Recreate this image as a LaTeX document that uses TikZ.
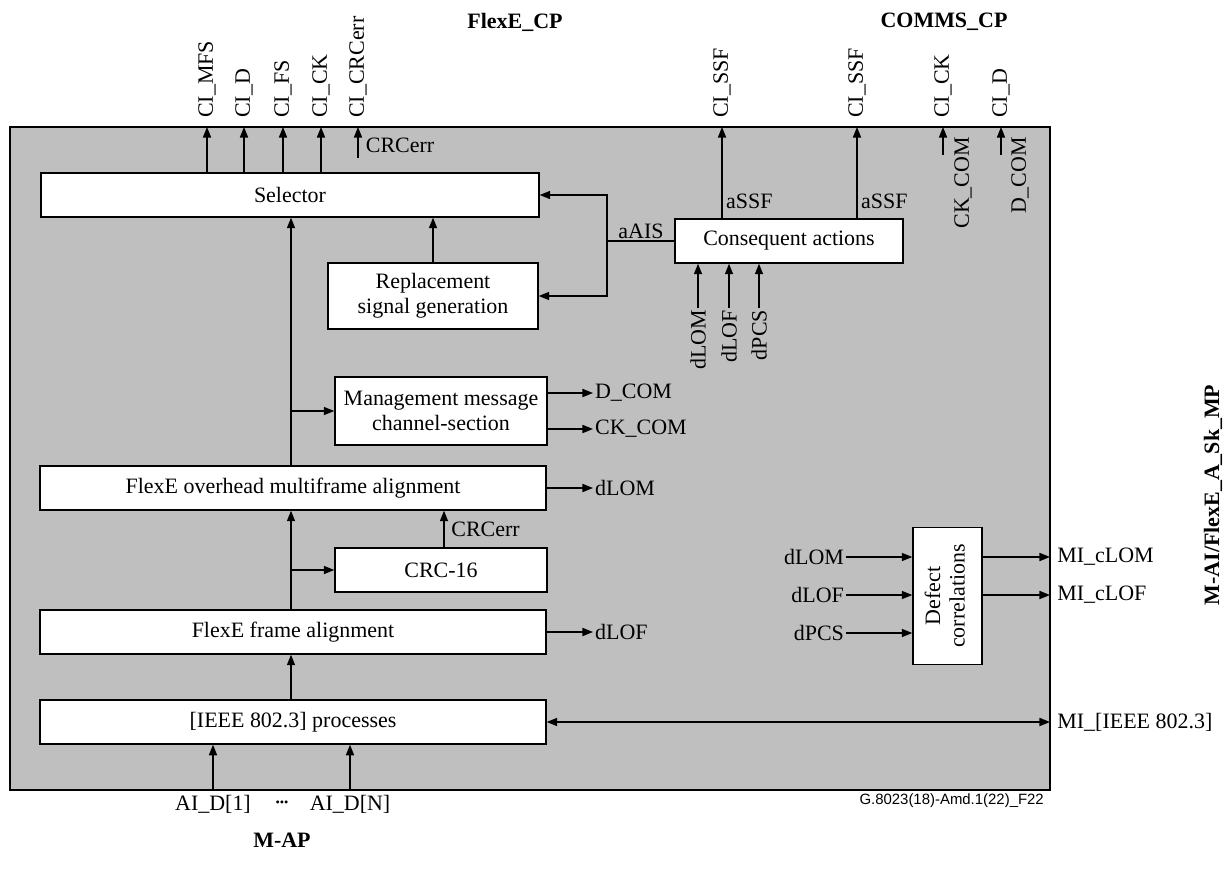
\documentclass[tikz,border=0pt]{standalone}
\usepackage{fontspec}
\setmainfont{Liberation Serif}
\setsansfont{Liberation Sans}
\usetikzlibrary{arrows.meta}

\begin{document}
\begin{tikzpicture}[x=0.02cm,y=-0.02cm,
        font=\fontsize{12.5}{14}\selectfont,
        block/.style={draw,thick,fill=white,inner sep=0pt,align=center,minimum height=0.88cm},
        vlab/.style={rotate=90,inner xsep=1pt,inner ysep=0.5pt},
        plab/.style={font=\fontsize{12.5}{14}\selectfont\bfseries},
        arr/.style={thick,-{Triangle[length=6pt,width=4.6pt]}}]
        \useasboundingbox (0,0) rectangle (1226,875);
        \filldraw[fill=black!25,thick] (10,127) rectangle (1050,790);

        \begin{scope}[every node/.style={block}]
        \node[minimum width=9.96cm] (sel) at (290,195) {Selector};
        \node[minimum width=4.2cm,minimum height=1.32cm] (rep) at (433,296) {Replacement\\signal generation};
        \node[minimum width=4.56cm] (con) at (789,241) {Consequent actions};
        \node[minimum width=4.24cm,minimum height=1.36cm] (mgmt) at (441,411) {Management message\\channel-section};
        \node[minimum width=10.12cm] (ovh) at (293,488) {FlexE overhead multiframe alignment};
        \node[minimum width=4.24cm] (crc) at (441,570) {CRC-16};
        \node[minimum width=10.12cm] (ffa) at (293,632) {FlexE frame alignment};
        \node[minimum width=10.12cm] (ieee) at (293,722) {[IEEE 802.3] processes};
        \node[minimum width=1.38cm,minimum height=2.74cm] (defc) at (947.5,596) {\rotatebox{90}{\begin{tabular}{@{}c@{}}Defect\\correlations\end{tabular}}};
        \end{scope}

        % ports on the top edge
        \begin{scope}[every node/.style={vlab,anchor=west,inner xsep=5pt}]
        \node (cimfs) at (207,127) {CI\_MFS};
        \node (cid) at (244,127) {CI\_D};
        \node (cifs) at (283,127) {CI\_FS};
        \node (cick) at (321,127) {CI\_CK};
        \node (cicrc) at (358,127) {CI\_CRCerr};
        \node (cissfa) at (722,127) {CI\_SSF};
        \node (cissfb) at (857,127) {CI\_SSF};
        \node (comck) at (943,127) {CI\_CK};
        \node (comd) at (1001,127) {CI\_D};
        \end{scope}
        \coordinate (crcsrc) at (358,158);
        \coordinate (cksrc) at (943,155);
        \coordinate (dsrc) at (1001,155);
        \coordinate (sp) at (291,0);
        \coordinate (ais) at (607,241);

        % plain labels
        \node[anchor=west,inner xsep=2pt] (crclab) at (362,145) {CRCerr};
        \node[vlab,anchor=east] (ckcom) at (963,135) {CK\_COM};
        \node[vlab,anchor=east] (dcomv) at (1020,135) {D\_COM};
        \node[anchor=west,inner sep=1pt] (assfa) at (724,201) {aSSF};
        \node[anchor=west,inner sep=1pt] (assfb) at (859,201) {aSSF};
        \node[anchor=south,inner sep=1pt] (aislab) at (641,241) {aAIS};
        \node[vlab,anchor=east] (dlomc) at (698,308) {dLOM};
        \node[vlab,anchor=east] (dlofc) at (729,308) {dLOF};
        \node[vlab,anchor=east] (dpcsc) at (759,308) {dPCS};
        \node[anchor=west,inner xsep=1pt] (dcom) at (593,393) {D\_COM};
        \node[anchor=west,inner xsep=1pt] (ckcomo) at (593,429) {CK\_COM};
        \node[anchor=west,inner xsep=1pt] (dlomo) at (593,488) {dLOM};
        \node[anchor=west,inner xsep=4pt] (crcerr) at (444,529) {CRCerr};
        \node[anchor=west,inner xsep=1pt] (dlofo) at (593,632) {dLOF};
        \node[anchor=east,inner xsep=1pt] (dlomd) at (846,557) {dLOM};
        \node[anchor=east,inner xsep=1pt] (dlofd) at (846,595) {dLOF};
        \node[anchor=east,inner xsep=1pt] (dpcsd) at (846,633) {dPCS};
        \node[anchor=west,inner xsep=4pt] (mclom) at (1050,557) {MI\_cLOM};
        \node[anchor=west,inner xsep=4pt] (mclof) at (1050,595) {MI\_cLOF};
        \node[anchor=west,inner xsep=4pt] (miieee) at (1050,722) {MI\_[IEEE 802.3]};
        \node[anchor=north,inner ysep=3pt] (aid1) at (213,790) {AI\_D[1]};
        \node[anchor=north,inner ysep=3pt] (aidn) at (350,790) {AI\_D[N]};
        \node (dots) at (282,804) {\fontsize{7}{7}\selectfont\textbullet\textbullet\textbullet};
        \node[anchor=east,font=\sffamily\fontsize{8.5}{10}\selectfont] (figid) at (1050,801) {G.8023(18)-Amd.1(22)\_F22};
        \node[plab] (fcp) at (515,22) {FlexE\_CP};
        \node[plab] (ccp) at (944,22) {COMMS\_CP};
        \node[plab] (map) at (282,840) {M-AP};
        \node[plab,rotate=90] (mpt) at (1213,495) {M-AI/FlexE\_A\_Sk\_MP};

        \begin{scope}[every edge/.style={draw,arr}]
        \path (sel.north -| cimfs) edge (cimfs.west)
              (sel.north -| cid) edge (cid.west)
              (sel.north -| cifs) edge (cifs.west)
              (sel.north -| cick) edge (cick.west)
              (crcsrc) edge (cicrc.west)
              (con.north -| cissfa) edge (cissfa.west)
              (con.north -| cissfb) edge (cissfb.west)
              (cksrc) edge (comck.west)
              (dsrc) edge (comd.west)
              (dlomc.east) edge (con.south -| dlomc)
              (dlofc.east) edge (con.south -| dlofc)
              (dpcsc.east) edge (con.south -| dpcsc)
              (rep.north) edge (sel.south -| rep)
              (ieee.north -| sp) edge (ffa.south -| sp)
              (ffa.north -| sp) edge (ovh.south -| sp)
              (ovh.north -| sp) edge (sel.south -| sp)
              (sp |- crc) edge (crc.west)
              (sp |- mgmt) edge (mgmt.west)
              (crc.north -| crcerr.west) edge (ovh.south -| crcerr.west)
              (mgmt.east |- dcom) edge (dcom.west)
              (mgmt.east |- ckcomo) edge (ckcomo.west)
              (ovh.east |- dlomo) edge (dlomo.west)
              (ffa.east |- dlofo) edge (dlofo.west)
              (dlomd.east) edge (defc.west |- dlomd)
              (dlofd.east) edge (defc.west |- dlofd)
              (dpcsd.east) edge (defc.west |- dpcsd)
              (defc.east |- mclom) edge (mclom.west)
              (defc.east |- mclof) edge (mclof.west)
              (aid1.north) edge (ieee.south -| aid1)
              (aidn.north) edge (ieee.south -| aidn);
        \end{scope}
        \draw[thick] (con.west) -- (ais);
        \draw[arr] (ais) |- (sel.east);
        \draw[arr] (ais) |- (rep.east);
        \draw[thick,{Triangle[length=6pt,width=4.6pt]}-{Triangle[length=6pt,width=4.6pt]}] (ieee.east) -- (miieee.west);
        \end{tikzpicture}
\end{document}
